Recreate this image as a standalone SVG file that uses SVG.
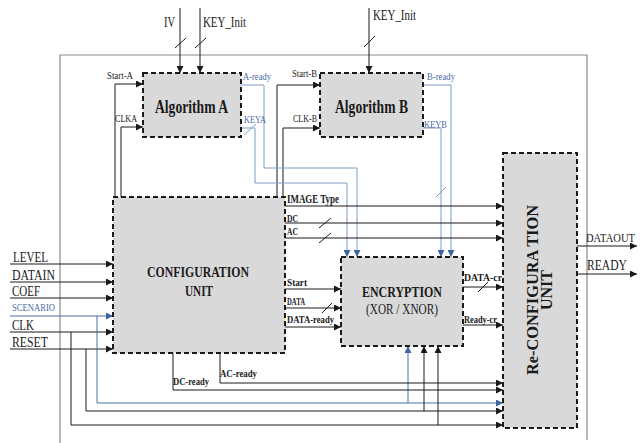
<svg xmlns="http://www.w3.org/2000/svg" width="642" height="443" viewBox="0 0 642 443">
<style>
.t{font-family:"Liberation Serif","Tinos","DejaVu Serif",serif;fill:#1a1a1a}
.b{font-weight:bold}
.bl{fill:#4a6ea8}
.box{fill:#d9d9d9;stroke:#1a1a1a;stroke-width:2;stroke-dasharray:5,3}
.ln{fill:none;stroke:#1a1a1a;stroke-width:1}
.lb{fill:none;stroke:#7f9cc4;stroke-width:1}
.ls{fill:none;stroke:#4a6ea8;stroke-width:1}
.fr{fill:none;stroke:#8a8a8a;stroke-width:1.2}
</style>
<defs>
<marker id="ak" markerUnits="userSpaceOnUse" markerWidth="7" markerHeight="7" refX="7" refY="3.5" orient="auto"><path d="M0,0 L7,3.5 L0,7 z" fill="#1a1a1a"/></marker>
<marker id="ab" markerUnits="userSpaceOnUse" markerWidth="7" markerHeight="7" refX="7" refY="3.5" orient="auto"><path d="M0,0 L7,3.5 L0,7 z" fill="#3f65a0"/></marker>
</defs>
<rect width="642" height="443" fill="#ffffff"/>
<path class="fr" d="M60,443 V55 H587 V440"/>

<g id="connectors">
<path class="ln" d="M180,8 V73" marker-end="url(#ak)"/>
<path class="ln" d="M200,8 V73" marker-end="url(#ak)"/>
<path class="ln" d="M369,8 V73" marker-end="url(#ak)"/>
<path class="ln" d="M175,48 L186,38 M195,48 L206,38 M364,47 L375,36"/>
<path class="ln" d="M115,197 V84 H143" marker-end="url(#ak)"/>
<path class="ln" d="M121,197 V127 H143" marker-end="url(#ak)"/>
<path class="ln" d="M277,197 V85 H320" marker-end="url(#ak)"/>
<path class="ln" d="M283,197 V128 H320" marker-end="url(#ak)"/>
<path class="lb" d="M241,85 H264 V168 H357 V257" marker-end="url(#ab)"/>
<path class="lb" d="M241,128 H255 V183 H347 V257" marker-end="url(#ab)"/>
<path class="lb" d="M423,85 H451 V257" marker-end="url(#ab)"/>
<path class="lb" d="M423,128 H441 V257" marker-end="url(#ab)"/>
<path class="lb" d="M244,135 L256,124 M436,197 L446,187"/>
<path class="ln" d="M10,264 H113" marker-end="url(#ak)"/>
<path class="ln" d="M10,282 H113" marker-end="url(#ak)"/>
<path class="ln" d="M10,298 H113" marker-end="url(#ak)"/>
<path class="ls" d="M10,316 H113" marker-end="url(#ab)"/>
<path class="ln" d="M10,332 H113" marker-end="url(#ak)"/>
<path class="ln" d="M10,349 H113" marker-end="url(#ak)"/>
<path class="ls" d="M97,316 V403 H503" marker-end="url(#ab)"/>
<path class="ls" d="M408,403 V346" marker-end="url(#ab)"/>
<path class="ln" d="M86,349 V411 H503" marker-end="url(#ak)"/>
<path class="ln" d="M424,411 V346" marker-end="url(#ak)"/>
<path class="ln" d="M71,332 V425 H503" marker-end="url(#ak)"/>
<path class="ln" d="M438,425 V346" marker-end="url(#ak)"/>
<path class="ln" d="M173,353 V390 H503" marker-end="url(#ak)"/>
<path class="ln" d="M220,353 V383 H503" marker-end="url(#ak)"/>
<path class="ln" d="M285,206 H503" marker-end="url(#ak)"/>
<path class="ln" d="M285,223 H503" marker-end="url(#ak)"/>
<path class="ln" d="M283,238 H503" marker-end="url(#ak)"/>
<path class="ln" d="M319,228 L331,218 M319,243 L331,233"/>
<path class="ln" d="M285,289 H341" marker-end="url(#ak)"/>
<path class="ln" d="M285,308 H341" marker-end="url(#ak)"/>
<path class="ln" d="M285,327 H341" marker-end="url(#ak)"/>
<path class="ln" d="M322,313 L332,303"/>
<path class="ln" d="M463,287 H503" marker-end="url(#ak)"/>
<path class="ln" d="M463,325 H503" marker-end="url(#ak)"/>
<path class="ln" d="M478,292 L488,282"/>
<path class="ln" d="M577,246 H637" marker-end="url(#ak)"/>
<path class="ln" d="M577,274 H637" marker-end="url(#ak)"/>
</g>

<g id="algorithmA">
<rect class="box" x="143" y="73" width="98" height="64"/>
<text class="t b" x="155" y="113" font-size="18" textLength="73" lengthAdjust="spacingAndGlyphs">Algorithm  A</text>
</g>
<g id="algorithmB">
<rect class="box" x="320" y="73" width="103" height="64"/>
<text class="t b" x="335" y="113" font-size="18" textLength="73" lengthAdjust="spacingAndGlyphs">Algorithm  B</text>
</g>
<g id="configuration">
<rect class="box" x="113" y="197" width="172" height="156"/>
<text class="t b" x="147" y="277" font-size="15" textLength="102" lengthAdjust="spacingAndGlyphs">CONFIGURATION</text>
<text class="t b" x="185" y="296" font-size="15" textLength="28" lengthAdjust="spacingAndGlyphs">UNIT</text>
</g>
<g id="encryption">
<rect class="box" x="341" y="257" width="122" height="89"/>
<text class="t b" x="362" y="297" font-size="15" textLength="80" lengthAdjust="spacingAndGlyphs">ENCRYPTION</text>
<text class="t" x="366" y="314" font-size="14" textLength="72" lengthAdjust="spacingAndGlyphs">(XOR / XNOR)</text>
</g>
<g id="reconfiguration">
<rect class="box" x="503" y="153" width="74" height="275"/>
<text class="t b" transform="translate(538,290) rotate(-90)" x="-85" y="0" font-size="16" textLength="170" lengthAdjust="spacingAndGlyphs">Re-CONFIGURA TION</text>
<text class="t b" transform="translate(552,290) rotate(-90)" x="-20" y="0" font-size="16" textLength="40" lengthAdjust="spacingAndGlyphs">UNIT</text>
</g>

<g id="labels">
<text class="t" x="164" y="27" font-size="14" textLength="11" lengthAdjust="spacingAndGlyphs">IV</text>
<text class="t" x="203" y="27" font-size="14" textLength="43" lengthAdjust="spacingAndGlyphs">KEY_Init</text>
<text class="t" x="373" y="20" font-size="14" textLength="43" lengthAdjust="spacingAndGlyphs">KEY_Init</text>
<text class="t" x="107" y="79" font-size="11" textLength="26" lengthAdjust="spacingAndGlyphs">Start-A</text>
<text class="t" x="115" y="122" font-size="11" textLength="22" lengthAdjust="spacingAndGlyphs">CLKA</text>
<text class="t bl" x="243" y="80" font-size="11" textLength="28" lengthAdjust="spacingAndGlyphs">A-ready</text>
<text class="t bl" x="244" y="123" font-size="11" textLength="22" lengthAdjust="spacingAndGlyphs">KEYA</text>
<text class="t" x="292" y="77" font-size="11" textLength="25" lengthAdjust="spacingAndGlyphs">Start-B</text>
<text class="t" x="293" y="122" font-size="11" textLength="24" lengthAdjust="spacingAndGlyphs">CLK-B</text>
<text class="t bl" x="427" y="80" font-size="11" textLength="28" lengthAdjust="spacingAndGlyphs">B-ready</text>
<text class="t bl" x="424" y="128" font-size="11" textLength="23" lengthAdjust="spacingAndGlyphs">KEYB</text>
<text class="t b" x="287" y="203" font-size="12" textLength="52" lengthAdjust="spacingAndGlyphs">IMAGE  Type</text>
<text class="t b" x="287" y="222" font-size="11" textLength="11" lengthAdjust="spacingAndGlyphs">DC</text>
<text class="t b" x="287" y="235" font-size="11" textLength="11" lengthAdjust="spacingAndGlyphs">AC</text>
<text class="t b" x="287" y="286" font-size="11" textLength="20" lengthAdjust="spacingAndGlyphs">Start</text>
<text class="t b" x="287" y="305" font-size="11" textLength="18" lengthAdjust="spacingAndGlyphs">DATA</text>
<text class="t b" x="287" y="323" font-size="11" textLength="47" lengthAdjust="spacingAndGlyphs">DATA-ready</text>
<text class="t b" x="464" y="281" font-size="11" textLength="38" lengthAdjust="spacingAndGlyphs">DATA-cr</text>
<text class="t b" x="464" y="323" font-size="11" textLength="33" lengthAdjust="spacingAndGlyphs">Ready-cr</text>
<text class="t" x="586" y="242" font-size="12" textLength="49" lengthAdjust="spacingAndGlyphs">DATAOUT</text>
<text class="t" x="587" y="270" font-size="14" textLength="40" lengthAdjust="spacingAndGlyphs">READY</text>
<text class="t" x="13" y="262" font-size="15" textLength="35" lengthAdjust="spacingAndGlyphs">LEVEL</text>
<text class="t" x="12" y="280" font-size="15" textLength="43" lengthAdjust="spacingAndGlyphs">DATAIN</text>
<text class="t" x="12" y="296" font-size="15" textLength="28" lengthAdjust="spacingAndGlyphs">COEF</text>
<text class="t bl" x="12" y="311" font-size="11" textLength="43" lengthAdjust="spacingAndGlyphs">SCENARIO</text>
<text class="t" x="12" y="330" font-size="15" textLength="22" lengthAdjust="spacingAndGlyphs">CLK</text>
<text class="t" x="12" y="347" font-size="15" textLength="36" lengthAdjust="spacingAndGlyphs">RESET</text>
<text class="t b" x="173" y="385" font-size="11" textLength="36" lengthAdjust="spacingAndGlyphs">DC-ready</text>
<text class="t b" x="220" y="377" font-size="11" textLength="37" lengthAdjust="spacingAndGlyphs">AC-ready</text>
</g>
</svg>
